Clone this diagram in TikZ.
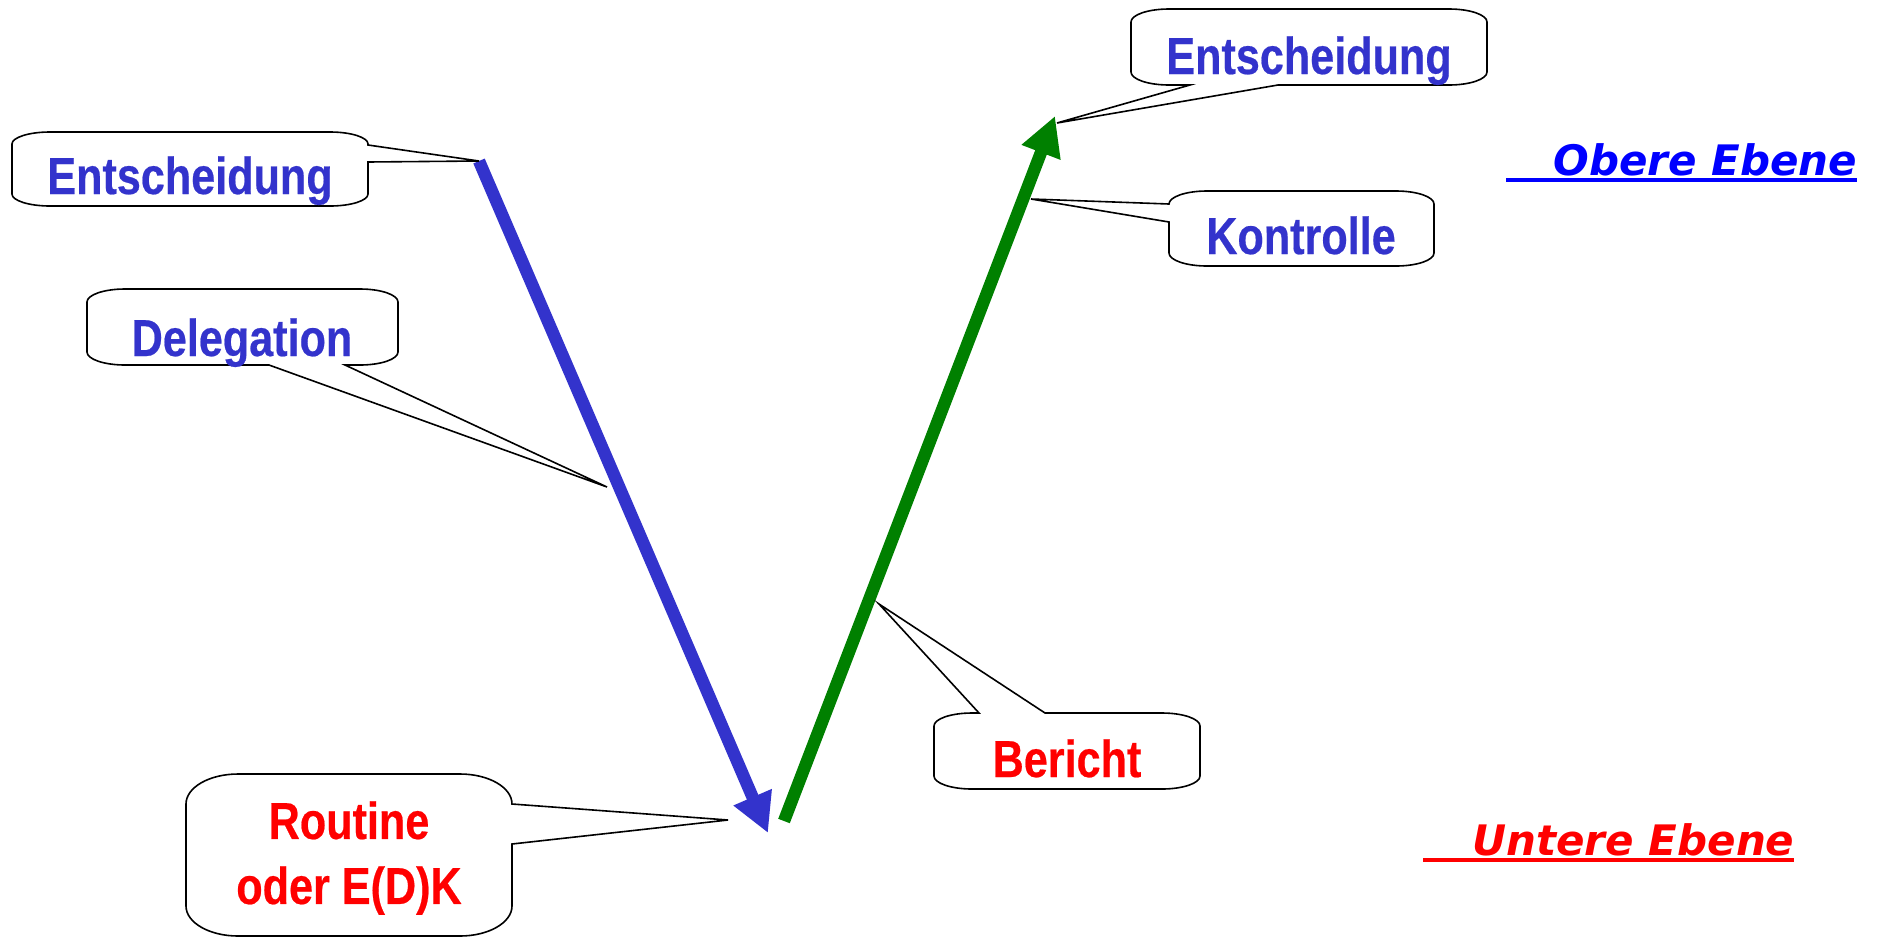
\documentclass[tikz,border=0pt]{standalone}
\usepackage{fontspec}
\usetikzlibrary{arrows.meta}
\newfontfamily\arb[FakeStretch=0.83,FakeBold=0.4]{Liberation Sans Bold}
\newfontfamily\verdbi{DejaVu Sans Bold Oblique}
\definecolor{cblue}{RGB}{51,51,204}
\definecolor{cgreen}{RGB}{0,128,0}
\definecolor{cred}{RGB}{255,0,0}
\definecolor{pblue}{RGB}{0,0,255}
\newcommand\myul[1]{\leavevmode\setbox0\hbox{#1}\rlap{\rule[-3.3pt]{\wd0}{1.65pt}}\box0}
\begin{document}
\begin{tikzpicture}[x=0.5pt,y=0.5pt,
 callout/.style={draw=black, line width=0.8pt, fill=white, line join=miter},
 ctext/.style={font=\arb\fontsize{26}{32.5}\selectfont, inner sep=0pt, anchor=base},
 blab/.style={ctext, text=cblue},
 rlab/.style={ctext, text=cred},
 level/.style={font=\verdbi\fontsize{21}{25}\selectfont, inner sep=0pt, anchor=base west},
 flow/.style={line width=6.2pt, -{Triangle[length=19.5pt,width=19.5pt]}},
 c1/.style={x radius=38, y radius=12},
 c2/.style={x radius=38, y radius=13},
 c3/.style={x radius=52, y radius=30},
]
\useasboundingbox (0,0) rectangle (1879,-938);
% arrows
\coordinate (blueS) at (479,-161);
\coordinate (blueE) at (768,-833);
\coordinate (greenS) at (784,-821);
\coordinate (greenE) at (1055,-116);
\draw[flow, cblue] (blueS) -- (blueE);
\draw[flow, cgreen] (greenS) -- (greenE);
% pointer tips
\coordinate (t1) at (479,-161);
\coordinate (tD) at (607,-487);
\coordinate (t2) at (1057,-123);
\coordinate (tK) at (1031,-199);
\coordinate (tR) at (728,-820);
\coordinate (tB) at (879,-604);
% callouts
\draw[callout] (12,-144) arc[start angle=180,end angle=90,c1] -- (330,-132)
  arc[start angle=90,end angle=0,c1] -- (368,-145) -- (t1) -- (368,-162) -- (368,-194)
  arc[start angle=0,end angle=-90,c1] -- (50,-206) arc[start angle=270,end angle=180,c1] -- cycle;
\draw[callout] (87,-302) arc[start angle=180,end angle=90,c2] -- (360,-289)
  arc[start angle=90,end angle=0,c2] -- (398,-352) arc[start angle=0,end angle=-90,c2]
  -- (345,-365) -- (tD) -- (269,-365) -- (125,-365) arc[start angle=270,end angle=180,c2] -- cycle;
\draw[callout] (1131,-22) arc[start angle=180,end angle=90,c2] -- (1449,-9)
  arc[start angle=90,end angle=0,c2] -- (1487,-72) arc[start angle=0,end angle=-90,c2]
  -- (1278,-85) -- (t2) -- (1190,-85) -- (1169,-85) arc[start angle=270,end angle=180,c2] -- cycle;
\draw[callout] (1169,-204) arc[start angle=180,end angle=90,c2] -- (1396,-191)
  arc[start angle=90,end angle=0,c2] -- (1434,-253) arc[start angle=0,end angle=-90,c2]
  -- (1207,-266) arc[start angle=270,end angle=180,c2] -- (1169,-222) -- (tK) -- cycle;
\draw[callout] (186,-804) arc[start angle=180,end angle=90,c3] -- (460,-774)
  arc[start angle=90,end angle=0,c3] -- (512,-804) -- (tR) -- (512,-844) -- (512,-906)
  arc[start angle=0,end angle=-90,c3] -- (238,-936) arc[start angle=270,end angle=180,c3] -- cycle;
\draw[callout] (934,-726) arc[start angle=180,end angle=90,c2] -- (979,-713) -- (tB)
  -- (1045,-713) -- (1162,-713) arc[start angle=90,end angle=0,c2] -- (1200,-776)
  arc[start angle=0,end angle=-90,c2] -- (972,-789) arc[start angle=270,end angle=180,c2] -- cycle;
% texts
\node[blab] (e1) at (190,-194) {Entscheidung};
\node[blab] (dl) at (242,-356) {Delegation};
\node[blab] (e2) at (1309,-74) {Entscheidung};
\node[blab] (ko) at (1301,-254) {Kontrolle};
\node[rlab, anchor=center, align=center] (ro) at (349,-858) {Routine\\oder E(D)K};
\node[rlab] (br) at (1067,-777) {Bericht};
\node[level, text=pblue] (ob) at (1506,-175) {\myul{\hspace*{23.5pt}Obere Ebene}};
\node[level, text=cred] (ue) at (1423,-855) {\myul{\hspace*{24.5pt}Untere Ebene}};
\end{tikzpicture}
\end{document}
